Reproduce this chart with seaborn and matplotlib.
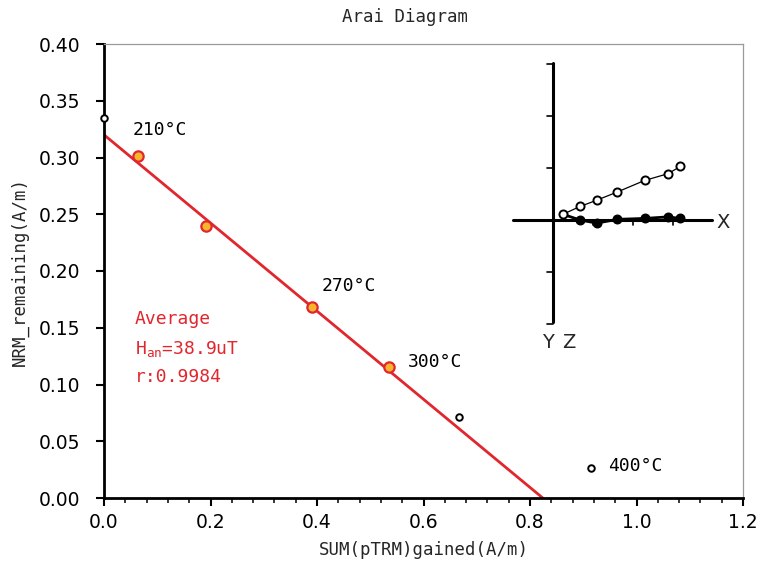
import numpy as np
import pandas as pd
import matplotlib
matplotlib.use("Agg")
import matplotlib.pyplot as plt
import seaborn as sns
from matplotlib.ticker import MultipleLocator, FormatStrFormatter

# ---------------- data ----------------
# Arai diagram points (pTRM gained, NRM remaining)
fit_ptrm = [0.063, 0.191, 0.391, 0.535]
fit_nrm = [0.301, 0.240, 0.1686, 0.1157]
other_ptrm = [0.0, 0.667, 0.915]
other_nrm = [0.335, 0.0711, 0.026]
# regression line end points
line_x = [0.0, 0.824]
line_y = [0.320, 0.0]
temp_labels = ["210°C", "270°C", "300°C", "400°C"]
temp_label_x = [0.0545, 0.409, 0.571, 0.946]
temp_label_y = [0.3238, 0.1872, 0.1194, 0.0286]
x_ticks = [0.0, 0.2, 0.4, 0.6, 0.8, 1.0, 1.2]
y_ticks = [0.00, 0.05, 0.10, 0.15, 0.20, 0.25, 0.30, 0.35, 0.40]
# Zijderveld inset (arbitrary units)
zij_h = [0.19, 0.52, 0.84, 1.24, 1.76, 2.21, 2.45]
zij_open = [0.11, 0.26, 0.38, 0.54, 0.76, 0.89, 1.03]
zij_filled = [0.11, 0.0, -0.06, 0.013, 0.03, 0.06, 0.03]

RED = "#e1262d"
ORANGE = "#f7b52e"

sns.set_theme(style="ticks")
plt.rcParams["font.family"] = ["DejaVu Sans"]
plt.rcParams["mathtext.fontset"] = "dejavusans"

W, H = 761, 570
fig = plt.figure(figsize=(W / 100, H / 100), dpi=100)
fig.patch.set_facecolor("white")

L, R, T, B = 104, 743, 44, 498
ax = fig.add_axes([L / W, 1 - B / H, (R - L) / W, (B - T) / H])
ax.set_facecolor("white")

fit_df = pd.DataFrame({"x": fit_ptrm, "y": fit_nrm})
oth_df = pd.DataFrame({"x": other_ptrm, "y": other_nrm})
line_df = pd.DataFrame({"x": line_x, "y": line_y})

sns.lineplot(data=line_df, x="x", y="y", ax=ax, color=RED, lw=2.0, zorder=2)
sns.scatterplot(data=fit_df, x="x", y="y", ax=ax, s=55, color=ORANGE,
                edgecolor=RED, linewidth=1.6, zorder=3)
sns.scatterplot(data=oth_df, x="x", y="y", ax=ax, s=22, color="white",
                edgecolor="black", linewidth=1.4, zorder=5, clip_on=False)

ax.set_xlim(0, 1.2)
ax.set_ylim(0, 0.40)
ax.set_xticks(x_ticks)
ax.set_yticks(y_ticks)
ax.xaxis.set_minor_locator(MultipleLocator(0.04))
ax.xaxis.set_major_formatter(FormatStrFormatter("%.1f"))
ax.yaxis.set_major_formatter(FormatStrFormatter("%.2f"))
ax.tick_params(axis="x", which="major", direction="out", length=6, width=1.5,
               labelsize=13.5, pad=5, colors="black")
ax.tick_params(axis="x", which="minor", direction="out", length=3.5, width=1.3)
ax.tick_params(axis="y", which="major", direction="out", length=6, width=1.5,
               labelsize=13.5, pad=11, colors="black")

for s in ["left", "bottom"]:
    ax.spines[s].set_linewidth(2)
    ax.spines[s].set_color("black")
for s in ["top", "right"]:
    ax.spines[s].set_linewidth(0.9)
    ax.spines[s].set_color("#9a9a9a")

ax.set_xlabel("SUM(pTRM)gained(A/m)", family="DejaVu Sans Mono", fontsize=12.5)
ax.set_ylabel("NRM_remaining(A/m)", family="DejaVu Sans Mono", fontsize=12.5)
ax.xaxis.set_label_coords(0.5, -(550 - B) / (B - T))
ax.xaxis.label.set_va("center")
ax.yaxis.set_label_coords(-(L - 20) / (R - L), 0.5)
ax.yaxis.label.set_va("center")

fig.text(405 / W, 1 - 17 / H, "Arai Diagram", family="DejaVu Sans Mono",
         fontsize=12.5, ha="center", va="center")

for t, tx, ty in zip(temp_labels, temp_label_x, temp_label_y):
    ax.text(tx, ty, t, family="DejaVu Sans Mono", fontsize=13, ha="left",
            va="center", color="black")

ax.text(0.058, 0.1573, "Average", family="DejaVu Sans Mono", fontsize=13,
        color=RED, ha="left", va="center")
ax.text(0.058, 0.1317, r"H$_{\mathtt{an}}$=38.9uT", family="DejaVu Sans Mono",
        fontsize=13, color=RED, ha="left", va="center")
ax.text(0.058, 0.1062, "r:0.9984", family="DejaVu Sans Mono", fontsize=13,
        color=RED, ha="left", va="center")

# ---------------- inset (Zijderveld) ----------------
ox, oy, unit = 553, 220, 52.0
xl = (-1.0, 3.5)
yl = (-2.3, 3.3)
left_px = ox + xl[0] * unit
right_px = ox + xl[1] * unit
top_px = oy - yl[1] * unit
bot_px = oy - yl[0] * unit
iax = fig.add_axes([left_px / W, 1 - bot_px / H, (right_px - left_px) / W,
                    (bot_px - top_px) / H])
iax.set_xlim(*xl)
iax.set_ylim(*yl)
iax.axis("off")
iax.plot([-0.77, 3.06], [0, 0], color="black", lw=2.2, zorder=1)
iax.plot([0, 0], [-1.96, 3.02], color="black", lw=2.2, zorder=1)
for k in [-2, -1, 1, 2, 3]:
    iax.plot([-0.12, 0], [k, k], color="black", lw=1.2)
for k in [1, 2, 3]:
    xv = k * 40 / unit
    iax.plot([xv, xv], [0, -0.1], color="black", lw=1.2)

zdf = pd.DataFrame({"h": zij_h, "open": zij_open, "filled": zij_filled})
iax.plot(zdf["h"], zdf["filled"], color="black", lw=2.0, zorder=2)
sns.scatterplot(data=zdf.iloc[1:], x="h", y="filled", ax=iax, s=38,
                color="black", edgecolor="black", linewidth=1, zorder=3)
iax.plot(zdf["h"], zdf["open"], color="black", lw=0.9, zorder=2)
sns.scatterplot(data=zdf, x="h", y="open", ax=iax, s=34, color="white",
                edgecolor="black", linewidth=1.4, zorder=4)
iax.set_xlabel("")
iax.set_ylabel("")

fig.text(716 / W, 1 - 222 / H, "X", fontsize=14, ha="left", va="center",
         family="DejaVu Sans")
fig.text(548 / W, 1 - 342 / H, "Y", fontsize=14, ha="center", va="center",
         family="DejaVu Sans")
fig.text(569 / W, 1 - 342 / H, "Z", fontsize=14, ha="center", va="center",
         family="DejaVu Sans")

fig.savefig("out.png", dpi=100, facecolor="white")
